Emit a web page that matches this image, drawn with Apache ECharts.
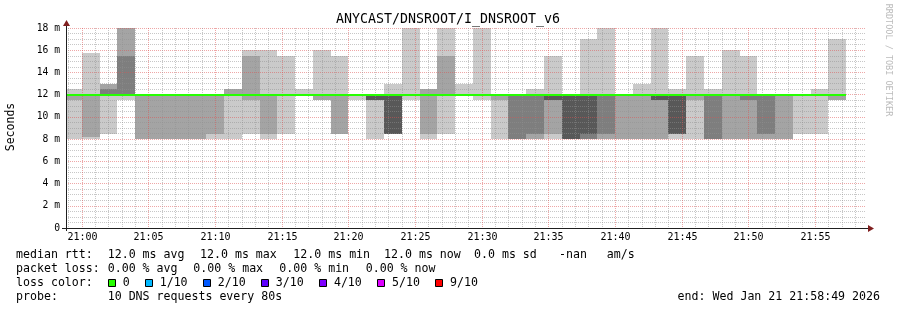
<!DOCTYPE html>
<html><head><meta charset="utf-8">
<script src="https://cdn.jsdelivr.net/npm/echarts@6/dist/echarts.min.js"></script>
<style>html,body{margin:0;padding:0;background:#fff}#c{width:897px;height:310px}</style>
</head><body><div id="c"></div>
<script>
// x values: seconds relative to 21:00:00 (Wed Jan 21 2026)
const X_MIN = -71, X_MAX = 3529;          // 20:58:49 .. 21:58:49
const STEP = 80;                          // probe step (s)
const FIRST_END = 0;                      // end time of first row
// sorted ping times (ms) per 80 s row, ping1 = fastest ... ping10 = slowest
const ping1  = [8,8,8.5,11.5,8,8,8,8,8,8, 8.5,8,8.5,12,11.5,8.5,11.5,8,8.5,11.5, 8,8.5,12,11.5,8,8,8,8,8,8, 8,8,8,8,8,8,8,8,8,8, 8,8.5,8.5,11.5];
const ping2  = [11.5,8.2,12,12,8,8,8,8,8.5,12, 11.5,8.5,12,12,11.5,8.5,12,11.5,8.5,12, 8.5,12,12,12,11.5,8,8,8.5,8,8, 8,8,8,8,8.5,11.5,8,8,8,8, 8,12,12,11.5];
const ping3  = [12,12,12,12,12,12,12,12,12,12, 12,12,12,12,12,12,12,11.5,8.5,12, 12,12,12,12,12,8,8.5,11.5,8,8, 8.5,12,12,11.5,8.5,12,8,12,11.5,8.5, 12,12,12,12];
const ping4  = [12,12,12,12,12,12,12,12,12,12, 12,12,12,12,12,12,12,11.5,8.5,12, 12,12,12,12,12,12,12,11.5,8,8.5, 12,12,12,11.5,8.5,12,12,12,12,12, 12,12,12,12];
const ping5  = [12,12,12,12,12,12,12,12,12,12, 12,12,12,12,12,12,12,12,12,12, 12,12,12,12,12,12,12,12,12,12, 12,12,12,12,12,12,12,12,12,12, 12,12,12,12];
const ping6  = [12,12,12,12,12,12,12,12,12,12, 12,12,12,12,12,12,12,12,12,12, 12,12,12,12,12,12,12,12,12,12, 12,12,12,12,12,12,12,12,12,12, 12,12,12,12];
const ping7  = [12,12,12,12,12,12,12,12,12,12, 12,12,12,12,12,12,12,12,12,12, 12,12,12,12,12,12,12,12,12,12, 12,12,12,12,12,12,12,12,12,12, 12,12,12,12];
const ping8  = [12,12,12.5,15.5,12,12,12,12,12,12, 12,12,12,12,12,12,12,12,12,12, 12,12,12,12,12,12,12,12,12,12, 12,12,12,12,12,12,12,12,12,12, 12,12,12,12];
const ping9  = [12,12,13,18,12,12,12,12,12,12.5, 15.5,12,12,12,12,12,12,12,12,12, 12.5,15.5,12,12,12,12,12,12,12,12, 12,12,12,12,12,12,12,12,12,12, 12,12,12,12];
const ping10 = [12.5,15.75,13,18,12,12,12,12,12,12.5, 16,16,15.5,12.5,16,15.5,12,12,13,18, 12.5,18,13,18,12,12,12.5,15.5,12,17, 18,12,13,18,12.5,15.5,12.5,16,15.5,12, 12,12,12.5,17];
const median = [12,12,12,12,12,12,12,12,12,12, 12,12,12,12,12,12,12,12,12,12, 12,12,12,12,12,12,12,12,12,12, 12,12,12,12,12,12,12,12,12,12, 12,12,12,12];
const xTickLabels = ['21:00','21:05','21:10','21:15','21:20','21:25','21:30','21:35','21:40','21:45','21:50','21:55'];
const lossLabels = ['0','1/10','2/10','3/10','4/10','5/10','9/10'];
const lossColors = ['#26ff00','#00b8ff','#0059ff','#5e00ff','#7e00ff','#dd00ff','#ff0000'];

const pings = [ping1,ping2,ping3,ping4,ping5,ping6,ping7,ping8,ping9,ping10];
const SMOKE = ['#cacaca','#a4a4a4','#7e7e7e','#585858','#323232'];
const GRID_C = 'rgba(143,143,143,0.5)';
const MGRID_C = 'rgba(222,79,79,0.5)';
const MONO = '"DejaVu Sans Mono", monospace';

function hhmmToSec(s){ const p=s.split(':'); return (parseInt(p[0])-21)*3600 + parseInt(p[1])*60; }
const majorSecs = xTickLabels.map(hhmmToSec);
const minorSecs = [];
for (let m = Math.ceil(X_MIN/60); m*60 <= X_MAX; m++) { if (m % 5 !== 0) minorSecs.push(m*60); }

const smokeData = ping1.map((v,i)=>[FIRST_END + STEP*i].concat(pings.map(p=>p[i])));
const medData = median.map((v,i)=>[FIRST_END + STEP*i, v]);

const chart = echarts.init(document.getElementById('c'), null, {renderer:'canvas'});

function renderSmoke(params, api){
  const t1 = api.value(0), t0 = Math.max(t1 - STEP, X_MIN);
  const children = [];
  for (let b=0;b<5;b++){
    const lo = api.value(1+b), hi = api.value(10-b);
    if (!(hi > lo)) continue;
    const a = api.coord([t0, hi]), c = api.coord([t1, lo]);
    const x0 = Math.round(a[0]), x1 = Math.round(c[0]);
    const y0 = Math.round(a[1]), y1 = Math.round(c[1]);
    children.push({type:'rect', shape:{x:x0,y:y0,width:x1-x0,height:y1-y0}, style:{fill:SMOKE[b]}});
  }
  return {type:'group', children};
}
function renderMedian(params, api){
  const t1 = api.value(0), t0 = Math.max(t1 - STEP, X_MIN);
  const a = api.coord([t0, api.value(1)]), c = api.coord([t1, api.value(1)]);
  const y = Math.round(a[1]);
  return {type:'line', shape:{x1:Math.round(a[0]), y1:y, x2:Math.round(c[0]), y2:y}, style:{stroke:'#26ff00', lineWidth:2}};
}
function makeVGrid(color){
  return function(params, api){
    const t = api.value(0);
    const top = api.coord([t, 18]), bot = api.coord([t, 0]);
    const x = Math.round(top[0]) + 0.5;
    return {type:'line', shape:{x1:x, y1:Math.round(top[1]), x2:x, y2:Math.round(bot[1])}, style:{stroke:color, lineWidth:1, lineDash:[1,1]}};
  };
}
function renderXLabel(params, api){
  const t = api.value(0);
  const p = api.coord([t, 0]);
  return {type:'text', style:{text: xTickLabels[params.dataIndex], x: Math.round(p[0])+0.5, y: p[1]+9.5, align:'center', verticalAlign:'middle', font:'10px '+MONO, fill:'#000'}};
}

// legend graphics
const LF = '11.6px ' + MONO;
const rowsY = [254.6, 268.7, 282.9, 296.9];
const g = [];
function txt(x,y,s,extra){ g.push(Object.assign({type:'text', x:x, y:y, style:{text:s, font:LF, fill:'#000', verticalAlign:'middle'}}, extra||{})); }
txt(16, rowsY[0], 'median rtt:');
[[107.7,'12.0 ms avg'],[200,'12.0 ms max'],[293.3,'12.0 ms min'],[384,'12.0 ms now'],[474,'0.0 ms sd'],[559,'-nan'],[606.7,'am/s']].forEach(a=>txt(a[0],rowsY[0],a[1]));
txt(16, rowsY[1], 'packet loss:');
[[107.7,'0.00 % avg'],[193.3,'0.00 % max'],[279.3,'0.00 % min'],[365.7,'0.00 % now']].forEach(a=>txt(a[0],rowsY[1],a[1]));
txt(16, rowsY[2], 'loss color:');
let bx = 108;
lossLabels.forEach((lab,i)=>{
  g.push({type:'rect', shape:{x:Math.round(bx)+0.5, y:279.5, width:7, height:7}, style:{fill:lossColors[i], stroke:'#000', lineWidth:1}});
  const lx = bx + 14.8;
  txt(lx, rowsY[2], lab);
  bx = lx + lab.length*7.07 + 15;
});
txt(16, rowsY[3], 'probe:');
txt(107.7, rowsY[3], '10 DNS requests every 80s');
g.push({type:'text', x:880, y:rowsY[3], style:{text:'end: Wed Jan 21 21:58:49 2026', font:LF, fill:'#000', align:'right', verticalAlign:'middle'}});
// title, axis title, watermark
g.push({type:'text', x:448, y:19.5, style:{text:'ANYCAST/DNSROOT/I_DNSROOT_v6', font:'13.3px '+MONO, fill:'#000', align:'center', verticalAlign:'middle'}});
g.push({type:'text', x:11, y:127, rotation:Math.PI/2, style:{text:'Seconds', font:'11.5px '+MONO, fill:'#000', align:'center', verticalAlign:'middle'}});
g.push({type:'text', x:888, y:60, rotation:-Math.PI/2, style:{text:'RRDTOOL / TOBI OETIKER', font:'8.5px '+MONO, fill:'#bbbbbb', align:'center', verticalAlign:'middle'}});
// axes and arrows
g.push({type:'line', z:100, shape:{x1:62, y1:228.5, x2:868, y2:228.5}, style:{stroke:'#1f1f1f', lineWidth:1}});
g.push({type:'line', z:100, shape:{x1:66.5, y1:231, x2:66.5, y2:24}, style:{stroke:'#1f1f1f', lineWidth:1}});
g.push({type:'polygon', z:101, shape:{points:[[868,225],[874,228.5],[868,232]]}, style:{fill:'#801f1f'}});
g.push({type:'polygon', z:101, shape:{points:[[63,26],[66.5,20],[70,26]]}, style:{fill:'#801f1f'}});

chart.setOption({
  animation:false,
  backgroundColor:'#ffffff',
  grid:{left:66, top:28, width:800, height:200, containLabel:false},
  xAxis:{type:'value', min:X_MIN, max:X_MAX, axisLine:{show:false}, axisTick:{show:false}, axisLabel:{show:false}, splitLine:{show:false}},
  yAxis:{type:'value', min:0, max:18, interval:2, z:3,
    axisLine:{show:false}, axisTick:{show:false},
    axisLabel:{margin:6, fontFamily:'DejaVu Sans Mono', fontSize:9.7, color:'#000', formatter:v=> v===0 ? '0' : v+' m'},
    splitLine:{show:true, lineStyle:{color:MGRID_C, width:1, type:[1,1]}},
    minorTick:{show:false, splitNumber:4},
    minorSplitLine:{show:true, lineStyle:{color:GRID_C, width:1, type:[1,1]}}
  },
  graphic:{elements:g},
  series:[
    {type:'custom', name:'smoke', z:1, renderItem:renderSmoke, data:smokeData, encode:{x:0, y:[1,10]}, silent:true},
    {type:'custom', name:'minorGrid', z:4, renderItem:makeVGrid(GRID_C), data:minorSecs.map(s=>[s]), encode:{x:0}, silent:true},
    {type:'custom', name:'majorGrid', z:4, renderItem:makeVGrid(MGRID_C), data:majorSecs.map(s=>[s]), encode:{x:0}, silent:true},
    {type:'custom', name:'median', z:6, renderItem:renderMedian, data:medData, encode:{x:0, y:1}, silent:true},
    {type:'custom', name:'xlabels', z:6, renderItem:renderXLabel, data:majorSecs.map(s=>[s]), encode:{x:0}, silent:true}
  ]
});
</script></body></html>
